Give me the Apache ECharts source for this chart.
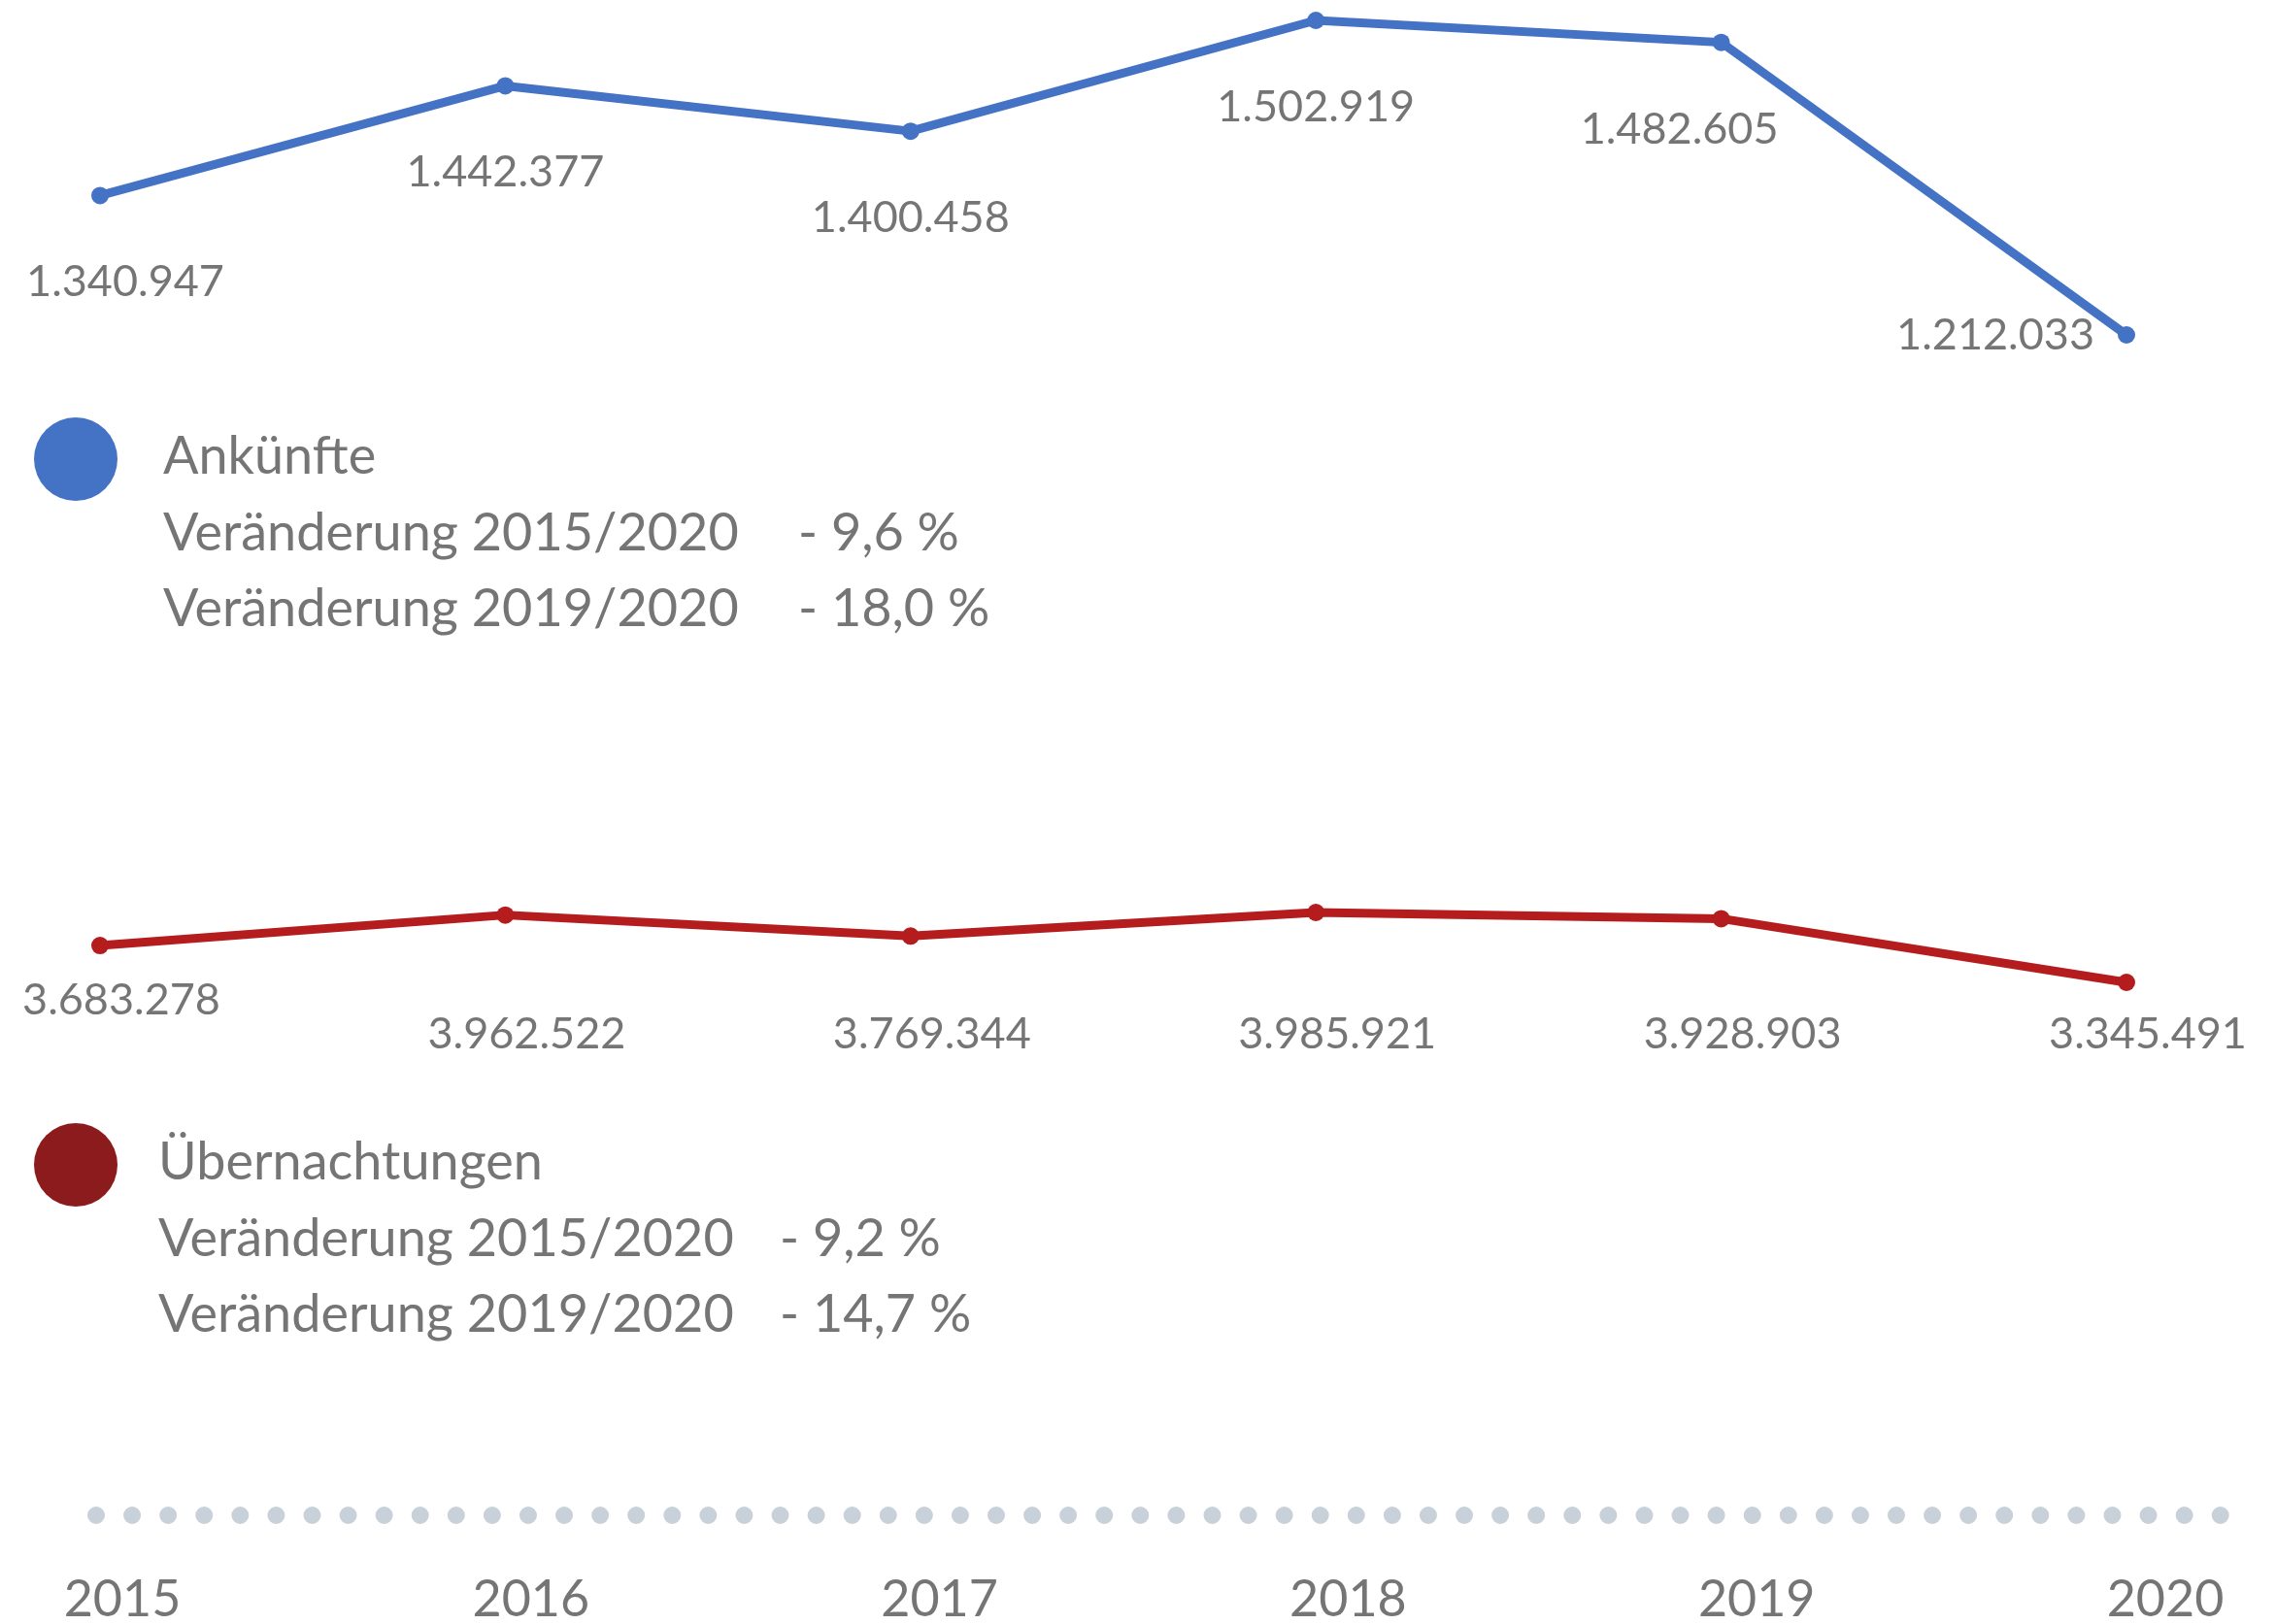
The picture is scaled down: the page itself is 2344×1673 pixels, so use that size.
<!DOCTYPE html>
<html>
<head>
<meta charset="utf-8">
<script src="https://cdn.jsdelivr.net/npm/echarts@6/dist/echarts.min.js"></script>
<style>
  html, body { margin: 0; padding: 0; background: #fff; }
  #chart { width: 2344px; height: 1673px; }
</style>
</head>
<body>
<div id="chart"></div>
<script>
// Daten
const years = ['2015', '2016', '2017', '2018', '2019', '2020'];
const arrivals = [1340947, 1442377, 1400458, 1502919, 1482605, 1212033];
const overnights = [3683278, 3962522, 3769344, 3985921, 3928903, 3345491];
const seriesNames = ['Ankünfte', 'Übernachtungen'];
const changePeriods = ['Veränderung 2015/2020', 'Veränderung 2019/2020'];
const arrivalsChange = ['- 9,6 %', '- 18,0 %'];
const overnightsChange = ['- 9,2 %', '- 14,7 %'];

const BLUE = '#4472C4';
const RED = '#B51C1E';
const RED_DARK = '#8C1B1D';
const GREY = '#757575';
const FONT = 'Lato';

// 1340947 -> 1.340.947
const fmt = v => String(v).replace(/\B(?=(\d{3})+(?!\d))/g, '.');

const chart = echarts.init(document.getElementById('chart'));

const hiddenX = idx => ({
  gridIndex: idx, type: 'category', data: years, boundaryGap: false, show: false
});
const hiddenY = idx => ({
  gridIndex: idx, type: 'value', show: false,
  min: v => v.min, max: v => v.max, splitLine: { show: false }
});

// Legendenblöcke (Kreis + Name + Veränderungen)
const legendText = (text, x, y) => ({
  type: 'text', x: x, y: y,
  style: { text: text, font: `54px ${FONT}`, fill: GREY, verticalAlign: 'middle' }
});
const legendBlock = (color, cy, name, changes, pctX, textX) => [
  { type: 'circle', shape: { cx: 78, cy: cy, r: 43 }, style: { fill: color } },
  legendText(name, textX, cy - 2),
  ...changePeriods.map((p, i) => legendText(p, textX, cy + 77 + i * 78)),
  ...changes.map((c, i) => legendText(c, pctX, cy + 77 + i * 78))
];

const labelStyle = {
  show: true, position: 'bottom',
  color: GREY, fontFamily: FONT, fontSize: 45,
  formatter: p => fmt(p.value)
};

const option = {
  animation: false,
  grid: [
    { left: 103, right: 154, top: 21, height: 324 },
    { left: 103, right: 154, top: 940, height: 72 },
    { left: 99, right: 21, top: 1560, height: 1 },
    { left: 126, right: 114, top: 1560, height: 1 }
  ],
  xAxis: [
    hiddenX(0),
    hiddenX(1),
    {
      gridIndex: 2, type: 'category', data: years, boundaryGap: false,
      axisLine: {
        lineStyle: { color: '#C8D0D9', width: 18, type: [0.01, 37.07], cap: 'round' }
      },
      axisTick: { show: false },
      axisLabel: { show: false }
    },
    {
      gridIndex: 3, type: 'category', data: years, boundaryGap: false,
      axisLine: { show: false },
      axisTick: { show: false },
      axisLabel: {
        interval: 0, margin: 62, color: GREY, fontFamily: FONT, fontSize: 52
      }
    }
  ],
  yAxis: [hiddenY(0), hiddenY(1), { gridIndex: 2, show: false }, { gridIndex: 3, show: false }],
  series: [
    {
      name: seriesNames[0],
      type: 'line',
      xAxisIndex: 0, yAxisIndex: 0,
      clip: false,
      symbol: 'circle', symbolSize: 18,
      lineStyle: { color: BLUE, width: 9 },
      itemStyle: { color: BLUE },
      label: Object.assign({ distance: 58 }, labelStyle),
      // erster Wert etwas nach rechts, 2019 nach links, letzter Wert links neben dem Punkt
      data: arrivals.map((v, i) => {
        if (i === 0) return { value: v, label: { offset: [26, 0] } };
        if (i === arrivals.length - 2) return { value: v, label: { offset: [-43, 0] } };
        if (i === arrivals.length - 1) return { value: v, label: { position: 'left', distance: 24 } };
        return v;
      })
    },
    {
      name: seriesNames[1],
      type: 'line',
      xAxisIndex: 1, yAxisIndex: 1,
      clip: false,
      symbol: 'circle', symbolSize: 18,
      lineStyle: { color: RED, width: 9 },
      itemStyle: { color: RED },
      label: Object.assign({ distance: 25 }, labelStyle),
      // Beschriftungen ab 2016 in einer Zeile
      labelLayout: p => (p.dataIndex === 0
        ? { dx: 22 }
        : { y: 1043, dx: 22, align: 'center', verticalAlign: 'top' }),
      data: overnights
    }
  ],
  graphic: [
    ...legendBlock(BLUE, 473, seriesNames[0], arrivalsChange, 822, 168),
    ...legendBlock(RED_DARK, 1200, seriesNames[1], overnightsChange, 803, 163)
  ]
};

chart.setOption(option);
window.addEventListener('resize', () => chart.resize());
</script>
</body>
</html>
